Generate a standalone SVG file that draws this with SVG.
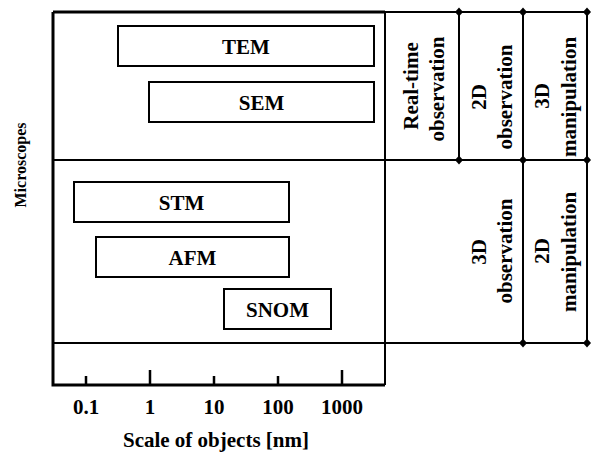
<svg xmlns="http://www.w3.org/2000/svg" width="592" height="453" viewBox="0 0 592 453">
<style>
.box{fill:#fff;stroke:#000;stroke-width:2}
.frame{stroke:#000;stroke-width:3;fill:none}
.grid{stroke:#000;stroke-width:2;fill:none}
.tick{stroke:#000;stroke-width:2.5}
.dot{fill:#000}
</style>
<defs>
<polygon id="dia" points="0,-4.5 4,0 0,4.5 -4,0"/>
</defs>
<rect width="592" height="453" fill="#fff"/>
<g id="connectors">
<path class="frame" d="M53,12 V385 H385 M53,12 H385"/>
<path class="grid" d="M385,12 V385 M385,12 H587 M53,160 H587 M53,343 H587 M459,12 V160 M523,12 V343 M587,12 V343"/>
<g class="dot">
<use href="#dia" x="459" y="12"/><use href="#dia" x="523" y="12"/><use href="#dia" x="587" y="12"/>
<use href="#dia" x="459" y="160"/><use href="#dia" x="523" y="160"/><use href="#dia" x="587" y="160"/>
<use href="#dia" x="523" y="343"/><use href="#dia" x="587" y="343"/>
</g>
<path class="tick" d="M86,376 V385 M150,370 V385 M214,376 V385 M278,376 V385 M342,370 V385"/>
</g>
<g font-family="Liberation Serif, Times New Roman, serif" font-weight="bold" font-size="21" text-anchor="middle" fill="#000">
<g id="TEM"><rect class="box" x="118" y="26" width="256" height="40"/><text x="246" y="54">TEM</text></g>
<g id="SEM"><rect class="box" x="149" y="82" width="225" height="40"/><text x="261.5" y="110">SEM</text></g>
<g id="STM"><rect class="box" x="74" y="182" width="215" height="40"/><text x="181.5" y="209.5">STM</text></g>
<g id="AFM"><rect class="box" x="96" y="237" width="193" height="40"/><text x="192.5" y="264.5">AFM</text></g>
<g id="SNOM"><rect class="box" x="224" y="289" width="107" height="40"/><text x="277.5" y="316.5">SNOM</text></g>
<g id="axis">
<text x="86" y="414">0.1</text>
<text x="150" y="414">1</text>
<text x="214" y="414">10</text>
<text x="278" y="414">100</text>
<text x="342" y="414">1000</text>
<text x="216" y="447">Scale of objects [nm]</text>
</g>
<g id="microscopes"><text font-size="16" transform="translate(26,165) rotate(-90)">Microscopes</text></g>
<g id="realtime">
<text transform="translate(418,86) rotate(-90)">Real-time</text>
<text transform="translate(444,89) rotate(-90)">observation</text>
</g>
<g id="obs2d">
<text transform="translate(486,97) rotate(-90)">2D</text>
<text transform="translate(512,97) rotate(-90)">observation</text>
</g>
<g id="man3d">
<text transform="translate(549,96) rotate(-90)">3D</text>
<text transform="translate(576,97) rotate(-90)">manipulation</text>
</g>
<g id="obs3d">
<text transform="translate(486,252) rotate(-90)">3D</text>
<text transform="translate(512,251) rotate(-90)">observation</text>
</g>
<g id="man2d">
<text transform="translate(549,251) rotate(-90)">2D</text>
<text transform="translate(576,252) rotate(-90)">manipulation</text>
</g>
</g>
</svg>
